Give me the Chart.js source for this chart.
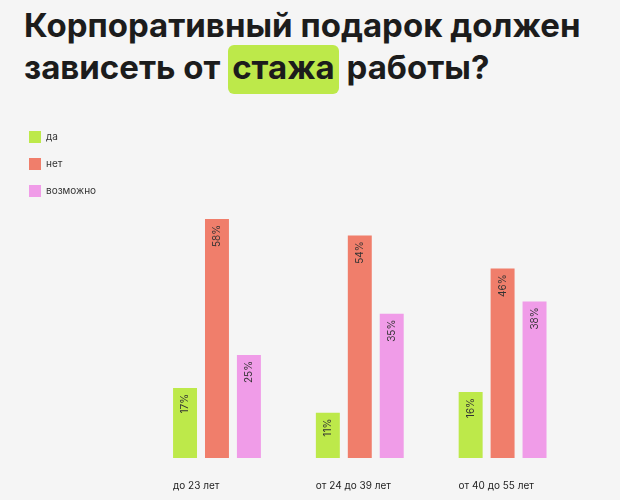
<!DOCTYPE html>
<html>
<head>
<meta charset="utf-8">
<script src="https://cdn.jsdelivr.net/npm/chart.js@4.4.1/dist/chart.umd.min.js"></script>
<style>
  html, body { margin: 0; padding: 0; background: #f5f5f5; }
  body { width: 620px; height: 500px; position: relative; overflow: hidden; font-family: Inter, "Noto Sans", sans-serif; }
  .title {
    position: absolute; left: 24px; top: 4px;
    font-size: 33px; font-weight: 700; line-height: 42px; color: #1c1c1c;
    white-space: nowrap;
  }
  .title .hl {
    background: #bde94a; border-radius: 6px; padding: 2px 4px 7px 4px;
  }
  .wrap { position: absolute; left: 0; top: 110px; width: 620px; height: 390px; }
</style>
</head>
<body>
<div class="title">Корпоративный подарок должен<br>зависеть от <span class="hl">стажа</span> работы?</div>
<div class="wrap"><canvas id="chart"></canvas></div>
<script>
// данные с картинки
const categories = ['до 23 лет', 'от 24 до 39 лет', 'от 40 до 55 лет'];
const seriesNames = ['да', 'нет', 'возможно'];
const yesValues = [17, 11, 16];
const noValues = [58, 54, 46];
const maybeValues = [25, 35, 38];
const seriesColors = ['#bde94a', '#f07e6b', '#f09ce8'];

// подписи внутри столбцов, повернутые вертикально
const barLabels = {
    id: 'barLabels',
    afterDatasetsDraw(chart) {
        const ctx = chart.ctx;
        ctx.save();
        ctx.font = '10px Inter, sans-serif';
        ctx.fillStyle = '#333333';
        ctx.textAlign = 'right';
        ctx.textBaseline = 'middle';
        chart.data.datasets.forEach((ds, i) => {
            const meta = chart.getDatasetMeta(i);
            meta.data.forEach((bar, j) => {
                ctx.save();
                ctx.translate(bar.x, bar.y + 6);
                ctx.rotate(-Math.PI / 2);
                ctx.fillText(ds.data[j] + '%', 0, 0);
                ctx.restore();
            });
        });
        ctx.restore();
    }
};

const ctx = document.getElementById('chart').getContext('2d');
new Chart(ctx, {
    type: 'bar',
    data: {
        labels: categories,
        datasets: [
            { label: seriesNames[0], data: yesValues, backgroundColor: seriesColors[0] },
            { label: seriesNames[1], data: noValues, backgroundColor: seriesColors[1] },
            { label: seriesNames[2], data: maybeValues, backgroundColor: seriesColors[2] }
        ]
    },
    options: {
        responsive: true,
        maintainAspectRatio: false,
        animation: false,
        layout: {
            padding: { top: 6, left: 14, right: 46, bottom: 0 }
        },
        datasets: {
            bar: { categoryPercentage: 0.671, barPercentage: 0.75 }
        },
        plugins: {
            legend: {
                position: 'left',
                align: 'start',
                labels: {
                    boxWidth: 12,
                    boxHeight: 12,
                    padding: 15,
                    color: '#333333',
                    font: { family: 'Inter', size: 10 }
                }
            },
            tooltip: { enabled: false }
        },
        scales: {
            x: {
                grid: { display: false, drawTicks: false },
                border: { display: false },
                ticks: {
                    color: '#222222',
                    font: { family: 'Inter', size: 10 },
                    align: 'start',
                    labelOffset: -44,
                    padding: 22,
                    maxRotation: 0
                },
                afterFit(scale) { scale.height = 42; }
            },
            y: {
                min: 0,
                max: 83,
                grid: { display: false, drawTicks: false },
                border: { display: false },
                ticks: { display: false },
                afterFit(scale) { scale.width = 39.5; }
            }
        }
    },
    plugins: [barLabels]
});
</script>
</body>
</html>
